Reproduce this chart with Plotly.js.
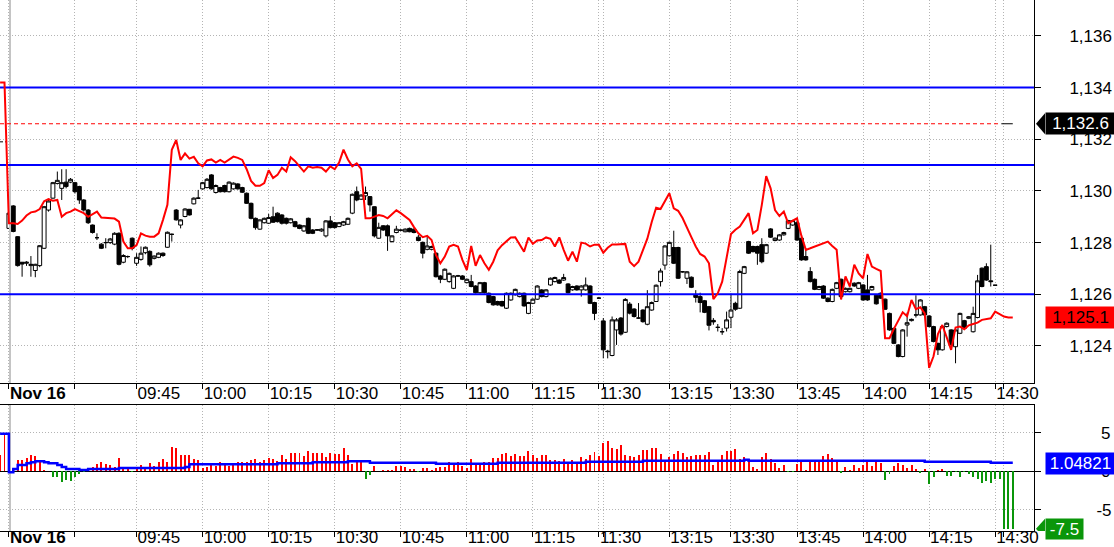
<!DOCTYPE html>
<html>
<head>
<meta charset="utf-8">
<script src="https://cdn.plot.ly/plotly-3.0.1.min.js"></script>
<style>
html,body{margin:0;padding:0;background:#ffffff;}
#chart{width:1114px;height:547px;}
</style>
</head>
<body>
<div id="chart"></div>
<script>
// ---------- DATA ----------
// 1-minute candles, bar index 0 = first bar of Nov 16
const candleOpen = [
1128.55,1129.42,1128.23,1127.24,1127.20,1127.11,1126.92,1127.11,1127.78,1129.26,
1129.72,1130.29,1130.10,1130.34,1130.34,1130.32,1130.17,1129.65,1129.26,1128.68,
1128.19,1127.94,1128.00,1128.00,1127.94,1128.36,1127.24,1127.46,1128.17,1127.20,
1127.35,1127.61,1127.66,1127.39,1127.43,1127.59,1127.82,1128.32,1129.26,1128.68,
1129.01,1129.29,1129.50,1129.72,1130.08,1130.13,1130.62,1129.94,1130.13,1130.21,
1129.97,1130.08,1130.27,1130.13,1129.91,1129.52,1128.94,1128.52,1128.77,1128.75,
1129.00,1129.14,1129.07,1128.94,1128.77,1128.81,1128.68,1128.45,1128.94,1128.49,
1128.49,1128.45,1128.26,1128.84,1128.77,1128.62,1128.68,1128.71,1129.14,1129.97,
1129.68,1129.81,1129.78,1129.39,1128.17,1128.65,1128.65,1128.04,1128.39,1128.48,
1128.42,1128.55,1128.52,1128.21,1128.01,1127.74,1127.74,1127.59,1126.71,1126.58,
1126.49,1126.23,1126.71,1126.71,1126.45,1126.49,1126.32,1126.06,1126.45,1126.04,
1125.91,1125.72,1125.72,1125.46,1125.78,1125.98,1125.91,1126.04,1125.26,1125.65,
1125.81,1126.17,1125.91,1126.36,1126.49,1126.55,1126.55,1126.40,1126.17,1126.32,
1126.17,1126.17,1126.32,1125.68,1125.85,1124.97,1123.80,1123.63,1124.62,1125.08,
1124.53,1125.62,1125.43,1125.08,1125.39,1124.84,1125.39,1125.72,1126.49,1127.13,
1127.49,1127.81,1127.81,1126.87,1126.62,1126.66,1125.97,1125.91,1125.75,1125.52,
1124.99,1124.72,1124.55,1124.69,1125.11,1125.65,1125.46,1126.81,1128.04,1127.85,
1127.85,1127.92,1127.59,1128.53,1128.08,1128.10,1128.30,1128.55,1128.68,1128.77,
1128.17,1127.46,1126.88,1126.58,1126.19,1126.32,1125.85,1125.72,1126.23,1126.58,
1126.10,1126.10,1126.43,1126.23,1126.36,1126.17,1126.17,1125.96,1126.04,1125.81,
1125.26,1124.68,1124.04,1123.59,1124.81,1124.98,1125.20,1125.20,1125.52,1125.16,
1124.75,1124.10,1123.85,1124.75,1124.62,1123.97,1124.49,1124.98,1125.07,1124.55,
1125.10,1127.01,1127.07,1126.52,1126.35];
const candleHigh = [
1129.68,1129.45,1128.25,1127.25,1127.28,1127.48,1127.18,1127.90,1129.42,1129.65,
1130.35,1130.75,1130.84,1130.84,1130.50,1130.35,1130.20,1129.68,1129.30,1128.70,
1128.36,1127.98,1128.17,1128.18,1128.40,1128.40,1127.55,1127.50,1128.20,1127.59,
1127.85,1127.85,1127.70,1127.50,1127.62,1127.62,1128.43,1128.35,1129.30,1128.90,
1129.33,1129.30,1129.75,1130.04,1130.35,1130.50,1130.65,1130.25,1130.16,1130.24,
1130.37,1130.33,1130.30,1130.16,1129.94,1129.55,1128.97,1128.90,1128.97,1129.11,
1129.39,1129.17,1129.10,1128.97,1128.95,1128.84,1128.70,1128.68,1128.97,1128.52,
1128.52,1128.55,1128.87,1129.03,1128.80,1128.80,1128.84,1128.97,1129.90,1130.17,
1129.87,1130.17,1129.80,1129.40,1128.77,1128.68,1128.70,1128.28,1128.65,1128.52,
1128.55,1128.58,1128.55,1128.30,1128.04,1128.26,1127.88,1127.62,1126.75,1127.00,
1126.84,1126.74,1126.75,1126.74,1126.61,1126.75,1126.35,1126.48,1126.48,1126.07,
1125.94,1125.75,1125.75,1126.07,1126.07,1126.22,1126.07,1126.07,1125.71,1125.84,
1126.35,1126.20,1126.20,1126.65,1126.68,1126.58,1126.79,1126.43,1126.33,1126.35,
1126.35,1126.65,1126.35,1125.71,1125.90,1125.08,1123.85,1125.14,1125.08,1125.12,
1125.85,1125.70,1125.46,1125.66,1125.42,1126.16,1125.72,1126.38,1127.00,1127.90,
1128.04,1128.46,1127.84,1126.90,1126.90,1126.69,1126.16,1126.06,1125.78,1125.55,
1125.08,1124.85,1124.69,1125.33,1126.03,1125.71,1126.95,1127.10,1128.07,1127.88,
1127.88,1128.17,1127.95,1128.56,1128.20,1128.33,1128.42,1128.88,1128.88,1128.85,
1128.20,1127.74,1127.05,1126.61,1126.33,1126.35,1125.88,1126.22,1126.48,1126.61,
1126.26,1126.26,1126.46,1126.48,1126.39,1126.75,1126.33,1125.99,1126.07,1125.84,
1125.29,1124.71,1124.07,1124.65,1125.29,1125.06,1125.96,1125.81,1125.55,1125.19,
1124.78,1124.13,1124.78,1124.91,1124.65,1124.65,1125.29,1125.01,1125.16,1125.52,
1126.75,1127.04,1127.20,1127.92,1126.35];
const candleLow = [
1128.55,1128.40,1127.07,1126.68,1127.10,1126.68,1126.66,1127.05,1127.75,1129.20,
1129.70,1130.25,1129.65,1130.10,1130.30,1129.90,1129.50,1129.20,1128.72,1128.35,
1128.10,1127.75,1127.78,1127.95,1127.90,1127.12,1127.20,1127.40,1127.70,1127.10,
1127.30,1127.55,1127.07,1127.35,1127.40,1127.45,1127.80,1128.04,1128.85,1128.55,
1128.98,1129.05,1129.48,1129.70,1130.05,1130.10,1130.05,1129.90,1129.94,1129.94,
1129.94,1130.05,1130.05,1129.92,1129.50,1128.90,1128.50,1128.50,1128.74,1128.72,
1128.76,1128.78,1128.70,1128.70,1128.74,1128.59,1128.52,1128.42,1128.33,1128.33,
1128.46,1128.42,1128.20,1128.55,1128.55,1128.60,1128.65,1128.68,1129.10,1129.60,
1129.65,1129.65,1129.20,1128.20,1128.15,1128.45,1127.68,1128.00,1128.36,1128.44,
1128.40,1128.40,1128.36,1128.05,1127.39,1127.70,1127.70,1126.65,1126.43,1126.55,
1126.45,1126.20,1126.68,1126.55,1126.42,1126.27,1126.03,1126.03,1126.03,1125.65,
1125.56,1125.56,1125.52,1125.43,1125.75,1125.95,1125.88,1125.52,1125.23,1125.62,
1125.78,1125.88,1125.88,1126.33,1126.46,1126.40,1126.52,1126.03,1126.14,1126.14,
1125.91,1126.14,1125.62,1125.00,1125.82,1123.52,1123.52,1123.60,1124.04,1124.40,
1124.50,1125.22,1125.10,1125.05,1124.90,1124.80,1125.36,1125.70,1126.30,1126.95,
1127.46,1127.17,1126.59,1126.84,1126.40,1126.24,1125.68,1125.30,1125.27,1124.60,
1124.82,1124.56,1124.43,1124.56,1124.69,1125.36,1125.43,1126.78,1127.56,1127.62,
1127.14,1127.20,1127.56,1128.18,1128.05,1128.07,1128.27,1128.52,1128.65,1128.07,
1127.30,1127.30,1126.46,1126.16,1126.16,1125.82,1125.69,1125.69,1126.20,1125.88,
1126.07,1126.07,1126.29,1126.20,1125.75,1125.75,1126.14,1125.60,1125.82,1125.39,
1124.59,1124.07,1123.56,1123.56,1124.36,1124.95,1125.10,1125.17,1125.17,1124.72,
1124.14,1123.65,1123.82,1124.72,1124.01,1123.33,1124.46,1124.65,1125.04,1124.52,
1125.07,1126.27,1126.52,1126.30,1126.35];
const candleClose = [
1129.14,1128.43,1127.11,1127.17,1127.24,1127.16,1127.16,1127.88,1129.39,1129.61,
1130.32,1130.41,1130.32,1130.17,1130.45,1129.97,1129.65,1129.26,1128.77,1128.39,
1128.19,1127.78,1128.00,1128.14,1128.36,1127.16,1127.50,1127.46,1127.78,1127.43,
1127.59,1127.82,1127.14,1127.48,1127.59,1127.50,1128.40,1128.32,1128.88,1128.88,
1129.30,1129.07,1129.72,1129.72,1130.32,1130.45,1130.08,1130.21,1129.97,1129.97,
1130.34,1130.30,1130.08,1129.95,1129.52,1128.94,1128.58,1128.88,1128.94,1128.97,
1128.79,1128.81,1128.75,1128.75,1128.92,1128.62,1128.55,1128.65,1128.36,1128.36,
1128.49,1128.52,1128.84,1128.58,1128.58,1128.77,1128.81,1128.94,1129.87,1129.65,
1129.84,1129.94,1129.46,1128.26,1128.59,1128.49,1128.26,1128.26,1128.52,1128.48,
1128.52,1128.42,1128.39,1128.08,1127.59,1127.87,1127.85,1126.68,1126.58,1126.97,
1126.81,1126.71,1126.71,1126.58,1126.58,1126.30,1126.06,1126.45,1126.06,1125.68,
1125.59,1125.59,1125.55,1126.04,1126.04,1126.19,1126.04,1125.55,1125.68,1125.81,
1126.32,1125.91,1126.17,1126.62,1126.65,1126.43,1126.65,1126.06,1126.30,1126.17,
1126.32,1126.36,1125.65,1125.26,1125.85,1123.85,1123.78,1125.01,1125.01,1124.46,
1125.80,1125.27,1125.14,1125.08,1124.94,1125.52,1125.68,1126.35,1126.90,1127.87,
1128.01,1127.20,1126.62,1126.87,1126.87,1126.27,1125.88,1125.68,1125.30,1124.80,
1124.93,1124.72,1124.55,1125.01,1125.39,1125.42,1126.88,1127.07,1127.59,1127.65,
1127.59,1127.26,1127.92,1128.21,1128.17,1128.30,1128.39,1128.85,1128.85,1128.10,
1127.33,1127.33,1126.49,1126.19,1126.30,1125.85,1125.72,1126.19,1126.45,1125.91,
1126.23,1126.23,1126.32,1126.45,1125.78,1125.78,1126.30,1125.63,1125.85,1125.42,
1124.62,1124.10,1123.59,1124.62,1124.90,1125.03,1125.20,1125.78,1125.20,1124.75,
1124.17,1123.85,1124.75,1124.88,1124.04,1124.62,1125.26,1124.68,1125.13,1125.26,
1126.52,1126.30,1126.55,1126.49,1126.35];

// red comparison line, starts two bars before the first candle (previous day)
const compareFirstIndex = -2;
const compareLine = [
1134.2,1134.2,1128.75,1128.75,1128.72,1128.85,1129.05,1129.17,1129.2,1129.3,
1129.6,1129.68,1129.62,1129.65,1129.0,1129.14,1129.2,1129.3,1129.22,1129.14,
1129.0,1129.1,1129.2,1128.97,1128.95,1128.93,1128.93,1128.81,1128.04,1127.78,
1127.78,1127.9,1128.36,1128.27,1128.23,1128.23,1128.36,1128.88,1129.46,1131.59,
1131.97,1131.2,1131.45,1131.25,1131.32,1131.07,1130.95,1131.18,1131.22,1131.1,
1131.2,1131.1,1131.2,1131.33,1131.28,1131.2,1130.84,1130.39,1130.2,1130.2,
1130.3,1130.8,1130.5,1130.62,1130.9,1130.75,1131.3,1131.15,1130.95,1130.75,
1130.95,1130.9,1130.93,1130.9,1130.75,1130.95,1130.84,1131.1,1131.6,1131.22,
1130.95,1131.07,1130.85,1128.94,1128.94,1129.0,1129.07,1129.03,1128.94,1129.1,
1129.25,1129.14,1129.0,1128.88,1128.6,1128.36,1128.21,1128.26,1128.1,1127.52,
1127.2,1127.46,1127.85,1127.91,1127.85,1127.33,1126.94,1127.87,1127.1,1127.52,
1127.2,1126.95,1127.26,1127.7,1127.9,1128.04,1128.2,1128.21,1127.95,1127.65,
1128.2,1127.95,1128.08,1128.1,1128.2,1128.15,1127.85,1128.2,1127.72,1127.3,
1127.65,1127.26,1128.0,1127.96,1127.85,1127.92,1127.92,1127.61,1127.8,1127.93,
1127.93,1127.93,1127.95,1127.26,1127.09,1127.26,1127.72,1128.15,1128.8,1129.35,
1129.3,1129.6,1129.91,1129.33,1129.23,1128.95,1128.55,1128.21,1127.85,1127.56,
1127.46,1127.2,1125.81,1126.04,1126.49,1127.4,1128.33,1128.5,1128.62,1128.88,
1129.14,1128.36,1128.49,1129.46,1130.57,1130.1,1129.26,1129.03,1129.2,1128.75,
1128.85,1128.94,1128.26,1127.72,1127.78,1127.85,1127.91,1127.97,1128.04,1127.87,
1127.72,1125.8,1126.69,1126.3,1127.14,1126.81,1126.62,1127.56,1127.07,1126.98,
1126.9,1124.3,1124.3,1124.66,1125.0,1125.3,1125.15,1125.78,1125.42,1125.5,
1125.26,1123.15,1123.6,1124.46,1124.81,1124.36,1123.85,1124.71,1124.75,1124.65,
1124.8,1124.85,1124.9,1125.01,1125.05,1125.07,1125.33,1125.22,1125.14,1125.1,1125.1];

// lower panel: spread histogram and its average
const spreadFirstIndex = -2;
const spreadBars = [
2.1,4.7,1.04,0.3,1.5,1.5,1.7,2.1,2.0,1.3,
0.2,0,-0.8,-0.8,-1.4,-1.1,-1.3,-0.7,-0.3,-0.1,
0.3,0.6,1.0,1.2,1.0,0.8,0.6,1.7,0.6,0.3,
-0.1,0.4,0.8,0.4,1.1,0.7,1.2,1.6,1.2,3.2,
3.0,2.1,2.1,2.1,1.6,1.5,0.4,0.6,1.1,0.7,
1.2,1.1,0.7,1.0,1.2,1.2,1.2,1.5,1.6,1.2,
1.5,1.7,1.6,1.35,2.1,1.6,2.4,2.4,2.4,2.0,
2.65,2.4,2.4,2.4,1.9,2.4,2.3,2.3,3.0,2.1,
0.95,1.5,1.2,-1.0,-0.5,0.7,0,0.17,0.17,0.17,
0.7,0.7,0.6,0.3,0.3,-0.05,0.43,0.43,0.17,0.43,
0.6,0.6,1.2,1.1,1.2,0.7,0.43,1.6,0.95,1.1,
1.2,1.2,1.7,1.7,2.3,2.4,2.0,2.3,2.0,2.0,
2.65,2.1,1.7,2.1,2.1,1.5,1.5,1.35,1.6,1.2,
1.5,1.1,1.9,1.6,2.1,2.5,2.0,3.7,4.0,3.0,
2.9,3.4,2.1,2.0,1.9,2.1,2.8,2.8,3.0,3.0,
2.3,1.5,1.9,2.3,2.65,2.4,1.9,2.0,2.1,2.1,
2.1,2.5,0.8,1.35,2.1,2.65,2.65,2.9,1.6,1.9,
1.6,0.6,0.3,1.9,2.4,1.6,1.1,0.43,0.8,-0.15,
-0.15,0.95,1.2,0.17,1.2,1.5,1.5,2.0,2.3,1.7,
1.35,-0.17,0.6,0.17,0.8,0.43,0.8,1.5,0.7,1.2,
1.1,-1.13,-0.35,0.7,1.1,0.8,0.43,0.8,0.3,-0.17,
0.3,-1.65,-0.74,0.17,0.3,-0.6,-0.6,-0.05,-0.74,-0.05,
-0.35,-0.74,-1.0,-1.5,-1.26,-1.5,-1.0,-1.0,-7.5,-7.5,-7.5];
const spreadAverage = [
4.9,4.9,-0.13,0.3,0.83,0.83,1.04,1.17,1.3,1.3,
1.17,1.04,1.04,0.83,0.57,0.3,0.3,0.3,0.17,0.17,
0.3,0.3,0.3,0.3,0.3,0.3,0.3,0.43,0.43,0.43,
0.43,0.43,0.43,0.43,0.43,0.43,0.43,0.43,0.43,0.43,
0.43,0.43,0.57,0.91,0.91,0.91,0.91,0.91,0.91,0.91,
0.91,0.91,0.91,0.91,0.91,0.91,0.91,0.91,0.91,0.91,
0.91,0.91,0.91,1.04,1.04,1.04,1.04,1.04,1.04,1.04,
1.04,1.17,1.17,1.17,1.17,1.17,1.17,1.17,1.17,1.3,
1.3,1.3,1.3,1.3,1.13,1.13,1.13,1.13,1.13,1.13,
1.13,1.13,1.13,1.13,1.13,1.13,1.13,1.13,1.13,1.0,
1.0,1.0,1.0,1.0,1.0,1.0,1.0,1.0,1.0,1.0,
1.0,1.0,1.0,1.13,1.13,1.13,1.13,1.13,1.13,1.13,
1.13,1.13,1.13,1.13,1.13,1.13,1.13,1.13,1.13,1.13,
1.13,1.13,1.13,1.26,1.26,1.26,1.26,1.26,1.26,1.26,
1.26,1.26,1.26,1.26,1.26,1.26,1.39,1.39,1.39,1.39,
1.39,1.39,1.39,1.39,1.39,1.39,1.39,1.39,1.39,1.39,
1.39,1.39,1.39,1.39,1.39,1.39,1.39,1.39,1.39,1.52,
1.39,1.39,1.39,1.39,1.39,1.39,1.39,1.39,1.39,1.39,
1.39,1.39,1.39,1.39,1.39,1.39,1.39,1.39,1.39,1.39,
1.39,1.39,1.39,1.39,1.39,1.39,1.39,1.39,1.39,1.39,
1.39,1.39,1.39,1.39,1.39,1.39,1.39,1.39,1.39,1.39,
1.26,1.26,1.26,1.26,1.26,1.26,1.26,1.26,1.26,1.26,
1.26,1.26,1.26,1.26,1.26,1.1,1.1,1.1,1.1,1.1,1.1];

// horizontal reference levels and markers
const levelLines = [1134, 1131, 1126];
const previousClose = [1132.6];
const priorDayLastClose = [1131.9];
const lastValues = {candle: "1,132.6", compare: "1,125.1", average: "1.04821", spread: "-7.5"};
const lastAverage = [1.04821];

// time axis
const timeTickIndex = [0, 15, 29, 44, 59, 74, 89, 104, 119, 134, 135, 150, 164, 179, 194, 209, 224, 226];
const timeTickLabels = ["<b>Nov 16</b>", "", "09:45", "10:00", "10:15", "10:30", "10:45", "11:00", "11:15", "11:30", "", "13:15", "13:30", "13:45", "14:00", "14:15", "14:30", ""];
const priceTicks = [1124, 1126, 1128, 1130, 1132, 1134, 1136];
const spreadTicks = [5, 0, -5];
const spreadTickLabels = ["\u20085", "\u20080", "-5"];
const daySeparatorIndex = [0.25];

// ---------- BUILD ----------
const xMin = -2.02, xMax = 232.82;
const candleX = candleOpen.map((_, k) => k);
const compareX = compareLine.map((_, k) => k + compareFirstIndex);
const spreadX = spreadBars.map((_, k) => k + spreadFirstIndex);
const prevCloseEnd = candleX.length;
const lastSpreadIndex = spreadX[spreadX.length - 1];

const RED = '#ff0000', BLUE = '#0000ff', GREEN = '#0a960a';
const FONT = 'Liberation Sans, Arial, sans-serif';
const GRID = '#b4b4b4';

const traces = [];
// day separator (drawn first, under everything)
traces.push({
  type: 'scatter', mode: 'lines', x: [daySeparatorIndex[0], daySeparatorIndex[0]], y: [1122.566, 1137.39],
  xaxis: 'x', yaxis: 'y', line: {color: '#c4c4c4', width: 2}, hoverinfo: 'skip', showlegend: false, cliponaxis: true
});
traces.push({
  type: 'scatter', mode: 'lines', x: [daySeparatorIndex[0], daySeparatorIndex[0]], y: [-7.784, 8.644],
  xaxis: 'x2', yaxis: 'y2', line: {color: '#c4c4c4', width: 2}, hoverinfo: 'skip', showlegend: false
});
traces.push({
  type: 'candlestick', x: candleX, open: candleOpen, high: candleHigh, low: candleLow, close: candleClose,
  xaxis: 'x', yaxis: 'y', whiskerwidth: 0,
  increasing: {line: {color: '#000000', width: 1}, fillcolor: '#ffffff'},
  decreasing: {line: {color: '#000000', width: 1}, fillcolor: '#000000'},
  hoverinfo: 'skip', showlegend: false
});
levelLines.forEach(v => traces.push({
  type: 'scatter', mode: 'lines', x: [xMin, xMax], y: [v, v], xaxis: 'x', yaxis: 'y',
  line: {color: BLUE, width: 2}, hoverinfo: 'skip', showlegend: false
}));
traces.push({
  type: 'scatter', mode: 'lines', x: [xMin, prevCloseEnd], y: [previousClose[0], previousClose[0]],
  xaxis: 'x', yaxis: 'y', line: {color: RED, width: 1, dash: '4px,3px'}, hoverinfo: 'skip', showlegend: false
});
traces.push({
  type: 'scatter', mode: 'lines', x: [prevCloseEnd + 0.4, lastSpreadIndex], y: [previousClose[0], previousClose[0]],
  xaxis: 'x', yaxis: 'y', line: {color: '#000000', width: 1}, hoverinfo: 'skip', showlegend: false
});
traces.push({
  type: 'scatter', mode: 'lines', x: [xMin, -0.4], y: [priorDayLastClose[0], priorDayLastClose[0]],
  xaxis: 'x', yaxis: 'y', line: {color: '#000000', width: 1, dash: '3px,2px'}, hoverinfo: 'skip', showlegend: false
});
traces.push({
  type: 'scatter', mode: 'lines', x: compareX, y: compareLine, xaxis: 'x', yaxis: 'y',
  line: {color: RED, width: 2}, hoverinfo: 'skip', showlegend: false
});
traces.push({
  type: 'bar', x: spreadX, y: spreadBars, xaxis: 'x2', yaxis: 'y2', width: 0.45,
  marker: {color: spreadBars.map(v => v >= 0 ? RED : GREEN), line: {width: 0}},
  hoverinfo: 'skip', showlegend: false
});
traces.push({
  type: 'scatter', mode: 'lines', x: spreadX, y: spreadAverage, xaxis: 'x2', yaxis: 'y2',
  line: {color: BLUE, width: 2.5, shape: 'hv'}, hoverinfo: 'skip', showlegend: false
});

const topDomain = [0.27872, 1];
const botDomain = [0, 0.23729];

const xCommon = {
  range: [xMin, xMax], tickmode: 'array', tickvals: timeTickIndex, ticktext: timeTickLabels,
  showgrid: true, gridcolor: GRID, griddash: '1px,2px', gridwidth: 1,
  ticks: 'outside', ticklen: 5, tickcolor: '#000000', tickwidth: 1,
  ticklabelposition: 'outside right',
  showline: true, linecolor: '#000000', linewidth: 1, zeroline: false,
  tickfont: {family: FONT, size: 17, color: '#000000'}, fixedrange: true
};

const layout = {
  width: 1114, height: 547,
  margin: {l: 0, r: 80, t: 0, b: 16, pad: 0},
  paper_bgcolor: '#ffffff', plot_bgcolor: '#ffffff',
  showlegend: false, hovermode: false, dragmode: false,
  font: {family: FONT, size: 17, color: '#000000'},
  boxgap: 0.12, boxgroupgap: 0,
  bargap: 0,
  xaxis: Object.assign({}, xCommon, {anchor: 'y', domain: [0, 1], rangeslider: {visible: false}, ticklabelstandoff: -5}),
  xaxis2: Object.assign({}, xCommon, {anchor: 'y2', domain: [0, 1], matches: 'x', mirror: true, ticklabelstandoff: -9}),
  yaxis: {
    domain: topDomain, range: [1122.566, 1137.39], side: 'right', anchor: 'x',
    tickmode: 'array', tickvals: priceTicks, tickformat: ',d',
    showgrid: true, gridcolor: GRID, griddash: '1px,2px', gridwidth: 1,
    ticks: 'outside', ticklen: 6, tickcolor: '#000000',
    showline: true, linecolor: '#000000', linewidth: 1, zeroline: false,
    ticklabelstandoff: 25,
    tickfont: {family: FONT, size: 17, color: '#000000'}, fixedrange: true
  },
  yaxis2: {
    domain: botDomain, range: [-7.784, 8.644], side: 'right', anchor: 'x2',
    tickmode: 'array', tickvals: spreadTicks, ticktext: spreadTickLabels,
    showgrid: true, gridcolor: GRID, griddash: '1px,2px', gridwidth: 1,
    zeroline: true, zerolinecolor: '#000000', zerolinewidth: 1.5,
    ticks: 'outside', ticklen: 6, tickcolor: '#000000',
    showline: true, linecolor: '#000000', linewidth: 1,
    ticklabelstandoff: 52,
    tickfont: {family: FONT, size: 17, color: '#000000'}, fixedrange: true
  },
  shapes: [
    // arrow tips of the value flags
    {type: 'path', xref: 'paper', yref: 'y', xsizemode: 'pixel', xanchor: 1, ysizemode: 'pixel', yanchor: previousClose[0],
     path: 'M 2,0 L 11,10.5 L 11,-10.5 Z', fillcolor: '#000000', line: {width: 0}, layer: 'above'},
    {type: 'path', xref: 'paper', yref: 'y2', xsizemode: 'pixel', xanchor: 1, ysizemode: 'pixel', yanchor: spreadBars[spreadBars.length - 1],
     path: 'M 2,0 L 11,10 L 11,-10 Z', fillcolor: GREEN, line: {width: 0}, layer: 'above'}
  ],
  annotations: [
    {xref: 'paper', x: 1045 / 1034, xanchor: 'left', yref: 'y', y: previousClose[0], yanchor: 'middle',
     text: lastValues.candle, showarrow: false, bgcolor: '#000000', width: 69, height: 21, borderpad: 0,
     font: {family: FONT, size: 17, color: '#ffffff'}, align: 'center'},
    {xref: 'paper', x: 1045 / 1034, xanchor: 'left', yref: 'y', y: compareLine[compareLine.length - 1], yanchor: 'middle',
     text: lastValues.compare, showarrow: false, bgcolor: RED, width: 69, height: 21, borderpad: 0,
     font: {family: FONT, size: 17, color: '#000000'}, align: 'center'},
    {xref: 'paper', x: 1045 / 1034, xanchor: 'left', yref: 'y2', y: lastAverage[0], yanchor: 'middle',
     text: lastValues.average, showarrow: false, bgcolor: BLUE, width: 69, height: 21, borderpad: 0,
     font: {family: FONT, size: 17, color: '#ffffff'}, align: 'center'},
    {xref: 'paper', x: 1045 / 1034, xanchor: 'left', yref: 'y2', y: spreadBars[spreadBars.length - 1], yanchor: 'middle',
     text: lastValues.spread, showarrow: false, bgcolor: GREEN, width: 37, height: 20, borderpad: 0,
     font: {family: FONT, size: 17, color: '#ffffff'}, align: 'center'}
  ]
};

Plotly.newPlot('chart', traces, layout, {displayModeBar: false, staticPlot: true});
</script>
</body>
</html>
